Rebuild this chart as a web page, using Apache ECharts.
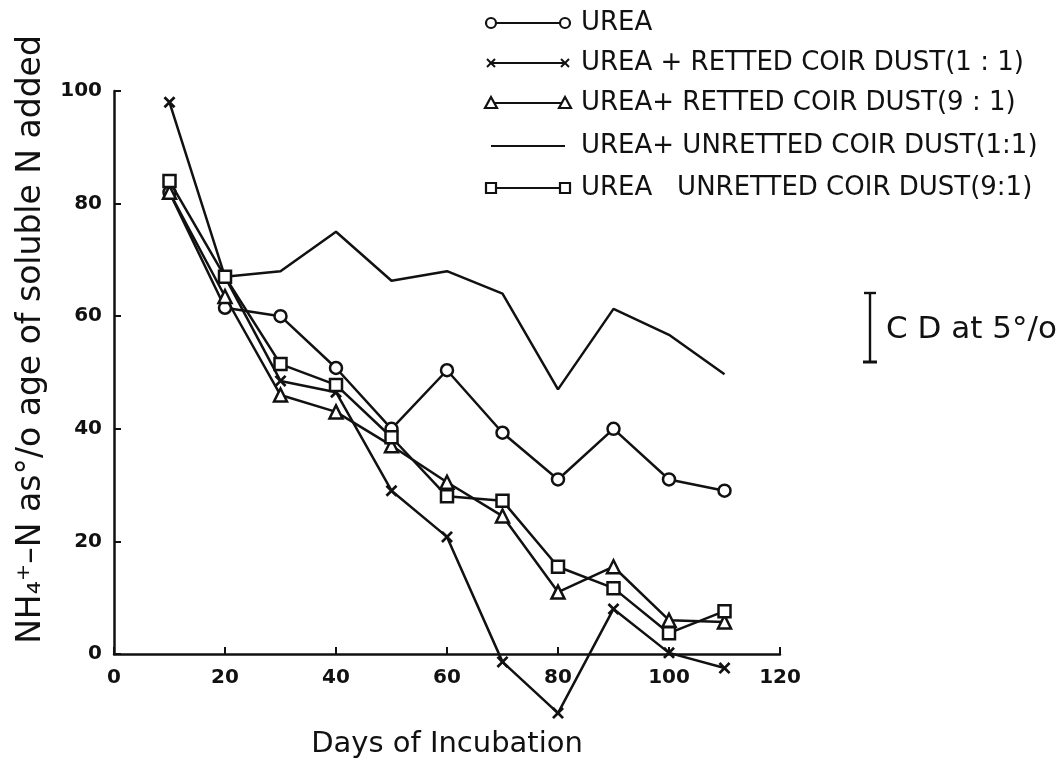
<!DOCTYPE html>
<html>
<head>
<meta charset="utf-8">
<script src="https://cdn.jsdelivr.net/npm/echarts@6/dist/echarts.min.js"></script>
<style>
  html, body { margin: 0; padding: 0; background: #fff; }
  #chart { width: 1064px; height: 766px; }
</style>
</head>
<body>
<div id="chart"></div>
<script>
// days of incubation
const days = [10, 20, 30, 40, 50, 60, 70, 80, 90, 100, 110]
const xTicks = [0, 20, 40, 60, 80, 100, 120]
const yTicks = [0, 20, 40, 60, 80, 100]

// NH4+-N as % of soluble N added
const urea = [82, 61.5, 60, 50.8, 40, 50.4, 39.3, 31, 40, 31, 29]
const urRetted11 = [98, 67, 48.5, 46.5, 29, 20.8, -1.4, -10.5, 8, 0.2, -2.5]
const urRetted91 = [82, 63.5, 46, 43, 37, 30.5, 24.5, 11, 15.5, 6, 5.7]
const urUnretted11 = [null, 67, 68, 75, 66.3, 68, 64, 47, 61.3, 56.7, 49.7]
const urUnretted91 = [84, 67, 51.5, 47.8, 38.5, 28, 27.2, 15.5, 11.7, 3.7, 7.6]

const names = [
  'UREA',
  'UREA + RETTED COIR DUST(1 : 1)',
  'UREA+ RETTED COIR DUST(9 : 1)',
  'UREA+ UNRETTED COIR DUST(1:1)',
  'UREA   UNRETTED COIR DUST(9:1)',
]

const INK = '#111'
const FONT = 'DejaVu Sans'
const X_SYMBOL = 'path://M0,1.6L1.6,0L5,3.4L8.4,0L10,1.6L6.6,5L10,8.4L8.4,10L5,6.6L1.6,10L0,8.4L3.4,5Z'

const styles = [
  { symbol: 'circle', size: 12 },
  { symbol: X_SYMBOL, size: 12, filled: true },
  { symbol: 'triangle', size: 13 },
  { symbol: 'none', size: 0 },
  { symbol: 'rect', size: 12 },
]
const seriesData = [urea, urRetted11, urRetted91, urUnretted11, urUnretted91]

function makeSeries(i) {
  const st = styles[i]
  return {
    name: names[i],
    type: 'line',
    data: days.map((d, k) => [d, seriesData[i][k]]),
    clip: false,
    connectNulls: false,
    symbol: st.symbol,
    symbolSize: st.size,
    showSymbol: st.symbol !== 'none',
    lineStyle: { color: INK, width: 2.5 },
    itemStyle: st.filled
      ? { color: INK, borderWidth: 0 }
      : { color: '#fff', borderColor: INK, borderWidth: 2.5 },
    z: 2 + i,
  }
}

// hand drawn style legend: symbol - line - symbol, then text
function legendGraphic() {
  const els = []
  const rowY = [23, 63, 103, 146, 188]
  const x0 = 491, x1 = 565
  for (let i = 0; i < names.length; i++) {
    const y = rowY[i]
    els.push({ type: 'line', shape: { x1: x0, y1: y, x2: x1, y2: y }, style: { stroke: INK, lineWidth: 2.2 } })
    ;[x0, x1].forEach((cx) => {
      const s = styles[i].symbol
      if (s === 'circle') {
        els.push({ type: 'circle', shape: { cx: cx, cy: y, r: 5 }, style: { fill: '#fff', stroke: INK, lineWidth: 2.2 } })
      } else if (s === 'triangle') {
        els.push({ type: 'polygon', shape: { points: [[cx, y - 6], [cx - 6, y + 5], [cx + 6, y + 5]] }, style: { fill: '#fff', stroke: INK, lineWidth: 2.2 } })
      } else if (s === 'rect') {
        els.push({ type: 'rect', shape: { x: cx - 5, y: y - 5, width: 10, height: 10 }, style: { fill: '#fff', stroke: INK, lineWidth: 2.2 } })
      } else if (s === X_SYMBOL) {
        els.push({ type: 'line', shape: { x1: cx - 4, y1: y - 4, x2: cx + 4, y2: y + 4 }, style: { stroke: INK, lineWidth: 2 } })
        els.push({ type: 'line', shape: { x1: cx + 4, y1: y - 4, x2: cx - 4, y2: y + 4 }, style: { stroke: INK, lineWidth: 2 } })
      }
    })
    els.push({
      type: 'text', x: 581, y: y,
      style: { text: names[i], fill: INK, font: '26px "' + FONT + '"', textVerticalAlign: 'middle' },
    })
  }
  // CD at 5% bar
  els.push({ type: 'line', shape: { x1: 870, y1: 293, x2: 870, y2: 362 }, style: { stroke: INK, lineWidth: 2.4 } })
  els.push({ type: 'line', shape: { x1: 864, y1: 293, x2: 876, y2: 293 }, style: { stroke: INK, lineWidth: 2.4 } })
  els.push({ type: 'line', shape: { x1: 863, y1: 362, x2: 877, y2: 362 }, style: { stroke: INK, lineWidth: 3 } })
  els.push({
    type: 'text', x: 886, y: 330,
    style: { text: 'C D at 5°/o', fill: INK, font: '31px "' + FONT + '"', textVerticalAlign: 'middle' },
  })
  return els
}

const chart = echarts.init(document.getElementById('chart'))
chart.setOption({
  backgroundColor: '#fff',
  animation: false,
  grid: { left: 114, right: 284, top: 91, bottom: 112, outerBoundsMode: 'none' },
  xAxis: {
    type: 'value',
    min: xTicks[0],
    max: xTicks[xTicks.length - 1],
    interval: 20,
    name: 'Days of Incubation',
    nameLocation: 'middle',
    nameGap: 76,
    nameTextStyle: { fontFamily: FONT, fontSize: 29, color: INK },
    axisLine: { onZero: false, lineStyle: { color: INK, width: 2.5 } },
    axisTick: { inside: true, length: 7, lineStyle: { color: INK, width: 2 } },
    axisLabel: { margin: 14, fontFamily: FONT, fontSize: 20, color: INK, fontWeight: 'bold' },
    splitLine: { show: false },
  },
  yAxis: {
    type: 'value',
    min: yTicks[0],
    max: yTicks[yTicks.length - 1],
    interval: 20,
    name: 'NH₄⁺–N as°/o age of soluble N added',
    nameLocation: 'middle',
    nameGap: 66,
    nameTextStyle: { fontFamily: FONT, fontSize: 33, color: INK, padding: [0, 0, 0, 66] },
    axisLine: { onZero: false, lineStyle: { color: INK, width: 2.5 } },
    axisTick: { inside: true, length: 7, lineStyle: { color: INK, width: 2 } },
    axisLabel: { margin: 12, fontFamily: FONT, fontSize: 20, color: INK, fontWeight: 'bold' },
    splitLine: { show: false },
  },
  series: [0, 1, 2, 3, 4].map(makeSeries),
  graphic: legendGraphic(),
})
</script>
</body>
</html>
